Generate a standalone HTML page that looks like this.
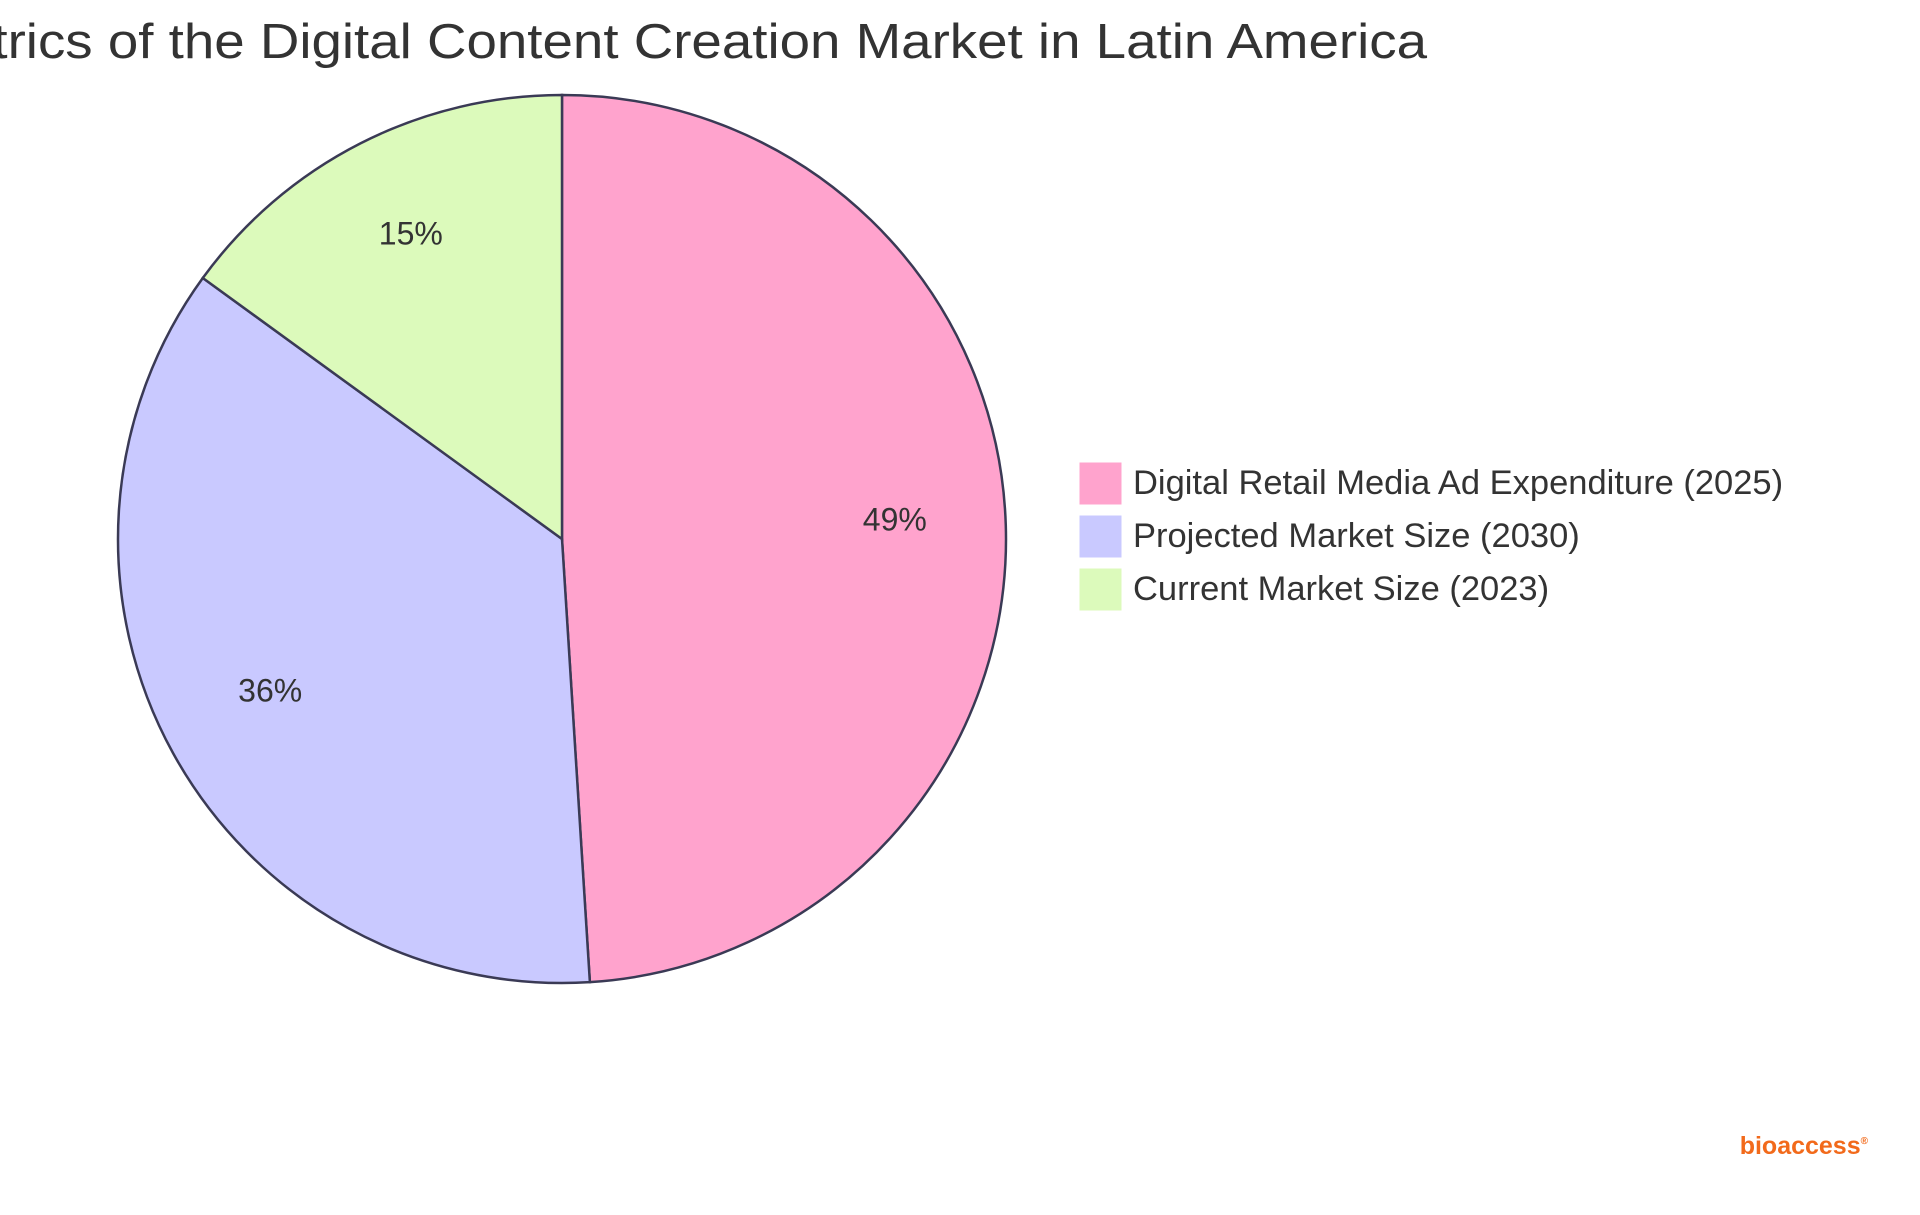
<!DOCTYPE html>
<html><head><meta charset="utf-8"><style>
html,body{margin:0;padding:0;background:#fff;}
svg{display:block;font-family:"Liberation Sans",sans-serif;}
</style></head><body>
<svg id="chart" width="1920" height="1215" viewBox="0 0 1920 1215">
<text x="1427" y="58" text-anchor="end" font-size="49" fill="#333" textLength="1620" lengthAdjust="spacingAndGlyphs">Key Metrics of the Digital Content Creation Market in Latin America</text>
<g id="slices"></g>
<g id="labels"></g>
<g id="legend"></g>
<text x="1868" y="1154" text-anchor="end" font-size="25" font-weight="bold" fill="#f26a1b">bioaccess<tspan font-size="10" dy="-10">®</tspan></text>
</svg>
<script>
const categories = ["Digital Retail Media Ad Expenditure (2025)", "Projected Market Size (2030)", "Current Market Size (2023)"];
const values = [49, 36, 15];
const colors = ["#ffa3cd", "#c9c9ff", "#dcfabb"];
const NS = "http://www.w3.org/2000/svg";
const cx = 562, cy = 539, r = 444;
const total = values.reduce((a,b)=>a+b,0);
const slices = document.getElementById('slices');
const labels = document.getElementById('labels');
const legend = document.getElementById('legend');
function pt(a, rad){ return [cx + rad*Math.sin(a), cy - rad*Math.cos(a)]; }
let start = 0;
values.forEach((v,i)=>{
  const sweep = v/total*2*Math.PI;
  const end = start + sweep;
  const [x1,y1] = pt(start, r), [x2,y2] = pt(end, r);
  const p = document.createElementNS(NS,'path');
  p.setAttribute('d', `M${cx},${cy} L${x1},${y1} A${r},${r} 0 ${sweep>Math.PI?1:0} 1 ${x2},${y2} Z`);
  p.setAttribute('fill', colors[i]);
  p.setAttribute('stroke', '#3a3a55');
  p.setAttribute('stroke-width', '2.5');
  
  
  slices.appendChild(p);
  const [lx,ly] = pt(start + sweep/2, r*0.75);
  const t = document.createElementNS(NS,'text');
  t.setAttribute('x', lx); t.setAttribute('y', ly + 2);
  t.setAttribute('text-anchor','middle');
  t.setAttribute('font-size','32'); t.setAttribute('fill','#333');
  t.textContent = Math.round(v/total*100) + '%';
  
  
  labels.appendChild(t);
  start = end;
  const y = 462 + i*53;
  const rect = document.createElementNS(NS,'rect');
  rect.setAttribute('x', 1079); rect.setAttribute('y', y);
  rect.setAttribute('width', 43); rect.setAttribute('height', 43);
  rect.setAttribute('fill', colors[i]);
  rect.setAttribute('stroke', '#fff');
  
  
  legend.appendChild(rect);
  const lt = document.createElementNS(NS,'text');
  lt.setAttribute('x', 1133); lt.setAttribute('y', y + 32);
  lt.setAttribute('font-size','34.5'); lt.setAttribute('fill','#333');
  lt.textContent = categories[i];
  
  
  legend.appendChild(lt);
});
</script>
</body></html>
